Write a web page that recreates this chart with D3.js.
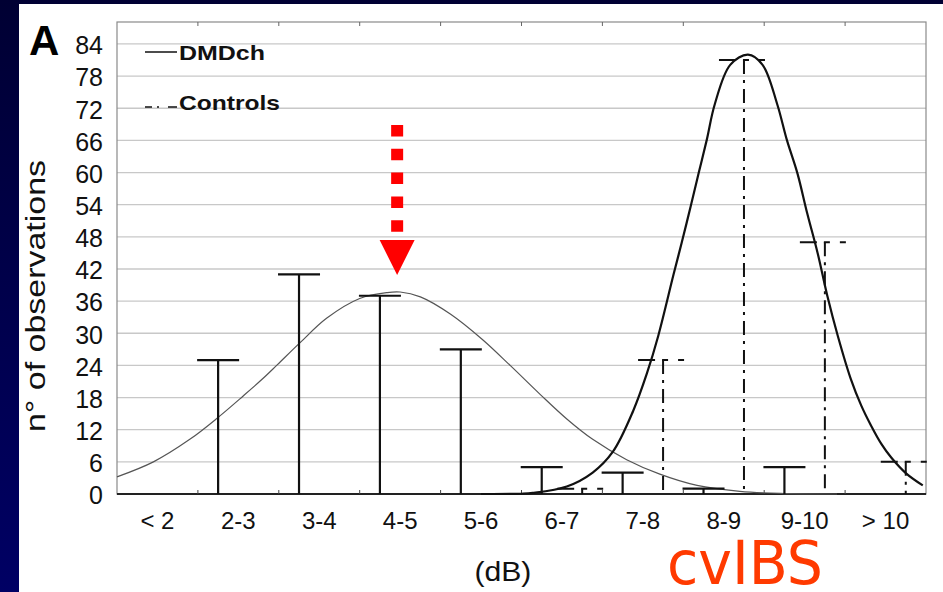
<!DOCTYPE html>
<html>
<head>
<meta charset="utf-8">
<script src="https://cdn.jsdelivr.net/npm/d3@7"></script>
<style>
  html, body { margin: 0; padding: 0; background: #000040; }
  svg { display: block; }
</style>
</head>
<body>
<svg id="chart" width="943" height="592"></svg>
<script>
// ---------------- DATA ----------------
const categories = ["< 2", "2-3", "3-4", "4-5", "5-6", "6-7", "7-8", "8-9", "9-10", "> 10"];
const dmdchCounts = [0, 25, 41, 37, 27, 5, 4, 1, 5, 0];
const controlsCounts = [0, 0, 0, 0, 0, 1, 25, 81, 47, 6];
const yTickValues = [0, 6, 12, 18, 24, 30, 36, 42, 48, 54, 60, 66, 72, 78, 84];

// fitted curves: x in dB, y in observations
const dmdchCurveDb  = [1.0, 1.45, 1.9, 2.25, 2.56, 2.8, 2.98, 3.26, 3.59, 4.0, 4.34, 4.5, 4.75, 5.12, 5.52, 5.86, 6.23, 6.56, 6.88, 7.3, 7.71, 8.17, 8.7, 9.2, 9.9];
const dmdchCurveVal = [3.2, 6.0, 10.2, 14.3, 18.3, 21.5, 24.1, 28.2, 32.8, 36.5, 37.6, 37.7, 36.8, 33.6, 28.8, 24.0, 18.6, 14.0, 10.2, 6.4, 3.7, 1.6, 0.5, 0.1, 0.0];
const controlsCurveDb  = [5.5, 6.0, 6.14, 6.56, 6.88, 7.13, 7.38, 7.55, 7.69, 7.88, 7.98, 8.09, 8.19, 8.29, 8.39, 8.58, 8.8, 8.98, 9.16, 9.28, 9.41, 9.53, 9.66, 9.78, 9.91, 10.07, 10.2, 10.32, 10.45, 10.57, 10.75, 10.96];
const controlsCurveVal = [0.0, 0.05, 0.2, 1.4, 4.0, 7.9, 15.5, 22.5, 29.5, 41.0, 46.9, 53.6, 59.9, 66.1, 72.8, 80.1, 82.0, 80.1, 72.8, 66.1, 59.9, 52.5, 45.0, 37.0, 29.5, 21.5, 16.5, 12.8, 9.3, 6.8, 3.9, 1.6];

const dbDomain = [1, 11];
const yDomainMax = 88.1;

// ---------------- LAYOUT ----------------
const W = 943, H = 592;
const plot = { left: 117, right: 926, top: 22, bottom: 494 };
const FONT = "'Liberation Sans', Arial, Helvetica, sans-serif";

const svg = d3.select("#chart");
const defs = svg.append("defs");
const grad = defs.append("linearGradient").attr("id", "bg").attr("x1", 0).attr("y1", 0).attr("x2", 0).attr("y2", 1);
grad.append("stop").attr("offset", "0%").attr("stop-color", "#000033");
grad.append("stop").attr("offset", "100%").attr("stop-color", "#000064");
svg.append("rect").attr("width", W).attr("height", H).attr("fill", "url(#bg)");
// white slide panel
svg.append("rect").attr("x", 19).attr("y", 4).attr("width", W - 19).attr("height", H - 4).attr("fill", "#ffffff");

// scales
const xBand = d3.scaleBand().domain(categories).range([plot.left, plot.right]).padding(0);
const xDb = d3.scaleLinear().domain(dbDomain).range([plot.left, plot.right]);
const y = d3.scaleLinear().domain([0, yDomainMax]).range([plot.bottom, plot.top]);
const bw = xBand.bandwidth();

// gridlines
svg.append("g").selectAll("line").data(yTickValues.filter(d => d > 0)).join("line")
  .attr("x1", plot.left).attr("x2", plot.right)
  .attr("y1", d => y(d)).attr("y2", d => y(d))
  .attr("stroke", "#c8c8c8").attr("stroke-width", 1.3);

// frame
svg.append("rect").attr("x", plot.left).attr("y", plot.top)
  .attr("width", plot.right - plot.left).attr("height", plot.bottom - plot.top)
  .attr("fill", "none").attr("stroke", "#8a8a8a").attr("stroke-width", 1.2);
svg.append("line").attr("x1", plot.left).attr("x2", plot.right).attr("y1", plot.bottom).attr("y2", plot.bottom)
  .attr("stroke", "#222").attr("stroke-width", 1.8);

// category boundary ticks (bottom & top)
const bounds = categories.slice(1).map(c => xBand(c));
svg.append("g").selectAll("line").data(bounds).join("line")
  .attr("x1", d => d).attr("x2", d => d).attr("y1", plot.bottom).attr("y2", plot.bottom - 4)
  .attr("stroke", "#444").attr("stroke-width", 1);
svg.append("g").selectAll("line").data(bounds).join("line")
  .attr("x1", d => d).attr("x2", d => d).attr("y1", plot.top).attr("y2", plot.top + 4)
  .attr("stroke", "#666").attr("stroke-width", 1);

// y axis labels
svg.append("g").selectAll("text").data(yTickValues).join("text")
  .attr("x", 103).attr("y", d => y(d) + 1.5).attr("dy", "0.35em")
  .attr("text-anchor", "end").attr("font-family", FONT).attr("font-size", 25).attr("fill", "#111")
  .text(d => d);

// x axis labels
svg.append("g").selectAll("text").data(categories).join("text")
  .attr("x", d => xBand(d) + bw / 2).attr("y", 529)
  .attr("text-anchor", "middle").attr("font-family", FONT).attr("font-size", 24).attr("fill", "#111")
  .text(d => d);

// axis titles
svg.append("text").attr("transform", "translate(45," + 296 + ") rotate(-90)")
  .attr("text-anchor", "middle").attr("font-family", FONT).attr("font-size", 27).attr("fill", "#111")
  .attr("textLength", 272).attr("lengthAdjust", "spacingAndGlyphs")
  .text("n° of observations");
svg.append("text").attr("x", xBand("5-6") + bw * 0.77).attr("y", 581)
  .attr("text-anchor", "middle").attr("font-family", FONT).attr("font-size", 28).attr("fill", "#111")
  .attr("textLength", 57).attr("lengthAdjust", "spacingAndGlyphs")
  .text("(dB)");

// panel letter
svg.append("text").attr("x", 29).attr("y", 55).attr("font-family", FONT).attr("font-weight", "bold")
  .attr("font-size", 42).attr("fill", "#000").text("A");

// curves
const curveLine = d3.line().x(d => xDb(d[0])).y(d => y(d[1])).curve(d3.curveCatmullRom.alpha(0.5));
svg.append("path").datum(dmdchCurveDb.map((d, i) => [d, dmdchCurveVal[i]]))
  .attr("d", curveLine).attr("fill", "none").attr("stroke", "#555").attr("stroke-width", 1.2);
svg.append("path").datum(controlsCurveDb.map((d, i) => [d, controlsCurveVal[i]]))
  .attr("d", curveLine).attr("fill", "none").attr("stroke", "#111").attr("stroke-width", 2.2);

// DMDch T marks (solid)
const dmdG = svg.append("g");
categories.forEach((c, i) => {
  const v = dmdchCounts[i];
  if (v <= 0) return;
  const cx = xBand(c) + bw * 0.25;
  dmdG.append("line").attr("x1", cx).attr("x2", cx).attr("y1", y(0)).attr("y2", y(v))
    .attr("stroke", "#111").attr("stroke-width", 2.2);
  dmdG.append("line").attr("x1", cx - 21).attr("x2", cx + 21).attr("y1", y(v)).attr("y2", y(v))
    .attr("stroke", "#111").attr("stroke-width", 2.2);
});

// Controls T marks (dash-dot)
const ctlG = svg.append("g");
categories.forEach((c, i) => {
  const v = controlsCounts[i];
  if (v <= 0) return;
  const cx = xBand(c) + bw * 0.75;
  ctlG.append("line").attr("x1", cx).attr("x2", cx).attr("y1", y(v)).attr("y2", y(0))
    .attr("stroke", "#111").attr("stroke-width", 2).attr("stroke-dasharray", "14,6,3,6");
  ctlG.append("line").attr("x1", cx - 25).attr("x2", cx + 25).attr("y1", y(v)).attr("y2", y(v))
    .attr("stroke", "#111").attr("stroke-width", 2).attr("stroke-dasharray", "17,7,6,10,6,100");
});

// legend
svg.append("line").attr("x1", 145).attr("x2", 177).attr("y1", 52).attr("y2", 52)
  .attr("stroke", "#111").attr("stroke-width", 1.5);
svg.append("text").attr("x", 179).attr("y", 60).attr("font-family", FONT).attr("font-weight", "bold")
  .attr("font-size", 21).attr("fill", "#111").attr("textLength", 86).attr("lengthAdjust", "spacingAndGlyphs")
  .text("DMDch");
svg.append("line").attr("x1", 145).attr("x2", 177).attr("y1", 107).attr("y2", 107)
  .attr("stroke", "#111").attr("stroke-width", 1.5).attr("stroke-dasharray", "7,5,2,9,9");
svg.append("text").attr("x", 179).attr("y", 110).attr("font-family", FONT).attr("font-weight", "bold")
  .attr("font-size", 21).attr("fill", "#111").attr("textLength", 101).attr("lengthAdjust", "spacingAndGlyphs")
  .text("Controls");

// red arrow annotation
const ax = xBand("4-5") + bw / 2 - 3;
svg.append("line").attr("x1", ax).attr("x2", ax).attr("y1", 125).attr("y2", 233)
  .attr("stroke", "#ff0000").attr("stroke-width", 12).attr("stroke-dasharray", "11.5,12.3");
svg.append("path").attr("d", `M${ax - 17.5},240 L${ax + 17.5},240 L${ax},275 Z`).attr("fill", "#ff0000");

// cvIBS label
svg.append("text").attr("x", 667).attr("y", 584).attr("font-family", "'DejaVu Sans', sans-serif")
  .attr("font-size", 60).attr("fill", "#ff3a00").attr("textLength", 156).attr("lengthAdjust", "spacingAndGlyphs")
  .text("cvIBS");
</script>
</body>
</html>
